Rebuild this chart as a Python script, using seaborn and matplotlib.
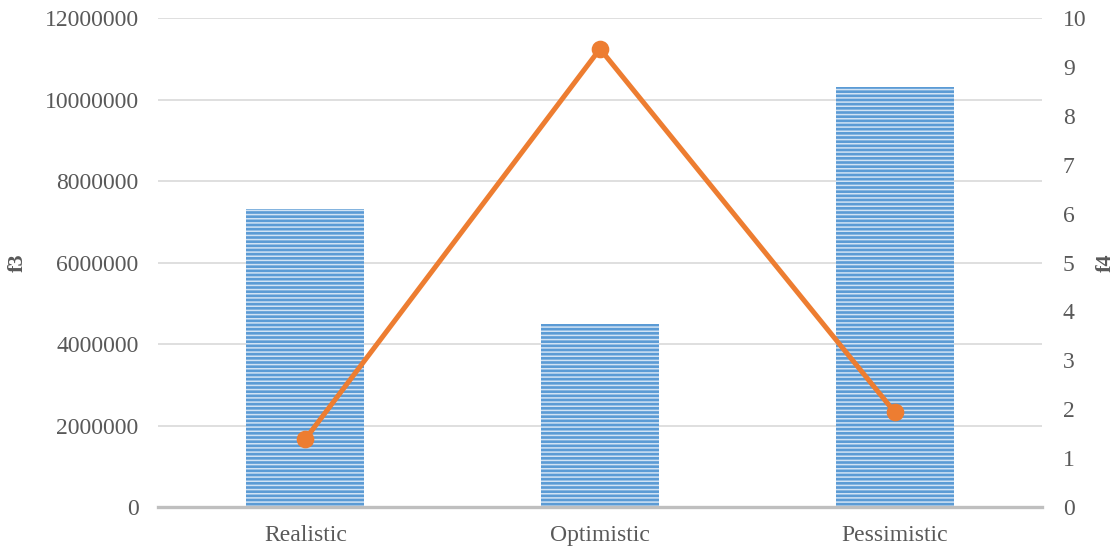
import matplotlib
matplotlib.use("Agg")
import matplotlib.pyplot as plt
import seaborn as sns
import pandas as pd

# Scenario values
scenarios = ["Realistic", "Optimistic", "Pessimistic"]
f3_values = [7310000, 4490000, 10310000]
f4_values = [1.39, 9.37, 1.94]
f3_ticks = [0, 2000000, 4000000, 6000000, 8000000, 10000000, 12000000]
f4_ticks = [0, 1, 2, 3, 4, 5, 6, 7, 8, 9, 10]

sns.set_style("white")
plt.rcParams["font.family"] = ["Liberation Serif", "DejaVu Serif"]
plt.rcParams["hatch.linewidth"] = 1.1

df = pd.DataFrame({"scenario": scenarios, "f3": f3_values, "f4": f4_values})

fig, ax = plt.subplots(figsize=(11.19, 5.48), dpi=100)
fig.subplots_adjust(left=0.1412, right=0.9312, top=0.967, bottom=0.0748)

sns.barplot(data=df, x="scenario", y="f3", ax=ax, color="#5B9BD5",
            saturation=1, width=0.40, zorder=2)
for p in ax.patches:
    p.set_hatch("----")
    p.set_edgecolor("#D2E3F4")
    p.set_linewidth(0)

ax.set_ylim(0, 12000000)
ax.set_yticks(f3_ticks)
ax.set_yticklabels([str(t) for t in f3_ticks])
ax.grid(axis="y", color="#D9D9D9", linewidth=1.2, zorder=0)
ax.set_axisbelow(True)
for s in ["top", "right", "left"]:
    ax.spines[s].set_visible(False)
ax.spines["bottom"].set_color("#BFBFBF")
ax.spines["bottom"].set_linewidth(2.4)
ax.spines["bottom"].set_zorder(3)
ax.tick_params(axis="y", length=0, labelsize=17, labelcolor="#595959", pad=14)
ax.tick_params(axis="x", length=0, labelsize=17, labelcolor="#595959", pad=13)
ax.set_xlabel("")
ax.set_ylabel("f3", fontsize=16, fontweight="bold", color="#595959")
ax.yaxis.set_label_coords(-0.147, 0.5)

ax2 = ax.twinx()
sns.pointplot(data=df, x="scenario", y="f4", ax=ax2, color="#ED7D31",
              markers="o", markersize=10, linewidth=3.6)
ax2.set_ylim(0, 10)
ax2.set_yticks(f4_ticks)
ax2.set_yticklabels([str(t) for t in f4_ticks])
for s in ax2.spines.values():
    s.set_visible(False)
ax2.tick_params(axis="y", length=0, labelsize=17, labelcolor="#595959", pad=15)
ax2.set_ylabel("f4", fontsize=16, fontweight="bold", color="#595959", rotation=90)
ax2.yaxis.set_label_coords(1.061, 0.5)
ax2.set_xlabel("")
ax.set_xlim(-0.5, 2.5)

fig.savefig("out.png", dpi=100)
